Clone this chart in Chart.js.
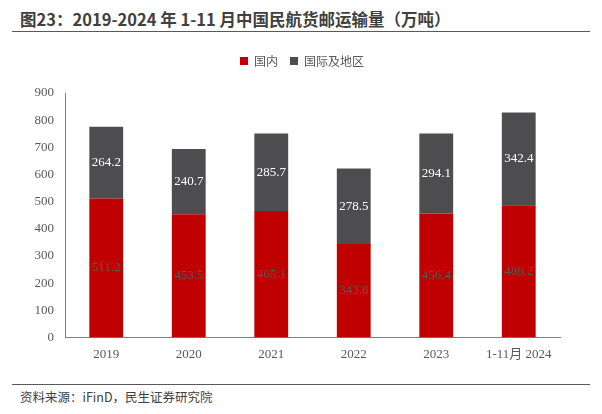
<!DOCTYPE html>
<html>
<head>
<meta charset="utf-8">
<script src="https://cdn.jsdelivr.net/npm/chart.js@4.4.0/dist/chart.umd.min.js"></script>
<style>
    html, body { margin: 0; padding: 0; background: #fff; }
    body { width: 602px; height: 414px; position: relative; overflow: hidden; font-family: 'Noto Sans CJK SC', sans-serif; }
    .title { position: absolute; left: 20px; top: 8px; font-size: 16.5px; font-weight: bold; color: #404040; white-space: nowrap; line-height: 22px; }
    .rule { position: absolute; left: 12px; width: 578px; height: 0; border-top: 1.5px solid #595959; }
    .source { position: absolute; left: 20px; top: 388px; font-size: 12.5px; color: #404040; line-height: 18px; }
    .wrap { position: absolute; left: 0; top: 40px; width: 602px; height: 335px; }
</style>
</head>
<body>
<div class="title">图23：2019-2024 年 1-11 月中国民航货邮运输量（万吨）</div>
<div class="rule" style="top:31px"></div>
<div class="wrap"><canvas id="cargoChart"></canvas></div>
<div class="rule" style="top:384px"></div>
<div class="source">资料来源：iFinD，民生证券研究院</div>
<script>
// 中国民航货邮运输量（万吨）
const categories = ['2019', '2020', '2021', '2022', '2023', '1-11月 2024'];
const domestic = [511.2, 453.5, 465.1, 343.8, 456.4, 486.2];
const international = [264.2, 240.7, 285.7, 278.5, 294.1, 342.4];
const yTicks = [0, 100, 200, 300, 400, 500, 600, 700, 800, 900];

const serif = "'Liberation Serif', 'Noto Sans CJK SC', serif";

// extra room between legend and plot, and nudge legend right
const legendTweak = {
    id: 'legendTweak',
    beforeInit(chart) {
        const legend = chart.legend;
        const fit = legend.fit;
        legend.fit = function() {
            fit.call(legend);
            this.height += 16;
        };
        const draw = legend.draw;
        legend.draw = function() {
            chart.ctx.save();
            chart.ctx.translate(22, 0);
            draw.call(legend);
            chart.ctx.restore();
        };
    }
};

// draw value labels in the middle of each bar segment
const segmentLabels = {
    id: 'segmentLabels',
    afterDatasetsDraw(chart) {
        const ctx = chart.ctx;
        ctx.save();
        ctx.font = '13px ' + serif;
        ctx.textAlign = 'center';
        ctx.textBaseline = 'middle';
        chart.data.datasets.forEach((ds, i) => {
            const meta = chart.getDatasetMeta(i);
            ctx.fillStyle = ds.labelColor;
            meta.data.forEach((bar, j) => {
                const y = (bar.y + bar.base) / 2;
                ctx.fillText(ds.data[j].toFixed(1), bar.x, y);
            });
        });
        ctx.restore();
    }
};

new Chart(document.getElementById('cargoChart'), {
    type: 'bar',
    data: {
        labels: categories,
        datasets: [{
            label: '国内',
            data: domestic,
            backgroundColor: '#C00000',
            labelColor: '#595959',
            barPercentage: 0.41,
            categoryPercentage: 1
        }, {
            label: '国际及地区',
            data: international,
            backgroundColor: '#4D4D4F',
            labelColor: '#ffffff',
            barPercentage: 0.41,
            categoryPercentage: 1
        }]
    },
    options: {
        responsive: true,
        maintainAspectRatio: false,
        animation: false,
        layout: {
            padding: { left: 0, right: 42, top: 3, bottom: 4 }
        },
        plugins: {
            legend: {
                position: 'top',
                labels: {
                    boxWidth: 8,
                    boxHeight: 8,
                    padding: 12,
                    color: '#595959',
                    font: { size: 12, family: "'Noto Sans CJK SC', sans-serif" }
                }
            },
            tooltip: { enabled: false }
        },
        scales: {
            x: {
                stacked: true,
                grid: { display: false, drawTicks: false },
                border: { display: true, color: '#808080', width: 1 },
                ticks: {
                    color: '#595959',
                    padding: 9,
                    maxRotation: 0,
                    font: { size: 13, family: serif }
                }
            },
            y: {
                stacked: true,
                min: 0,
                max: 900,
                afterFit: (scale) => { scale.width = 65; },
                afterBuildTicks: (scale) => { scale.ticks = yTicks.map(v => ({ value: v })); },
                grid: { display: false, drawTicks: false },
                border: { display: true, color: '#808080', width: 1 },
                ticks: {
                    color: '#595959',
                    padding: 11,
                    font: { size: 13, family: serif }
                }
            }
        }
    },
    plugins: [legendTweak, segmentLabels]
});
</script>
</body>
</html>
